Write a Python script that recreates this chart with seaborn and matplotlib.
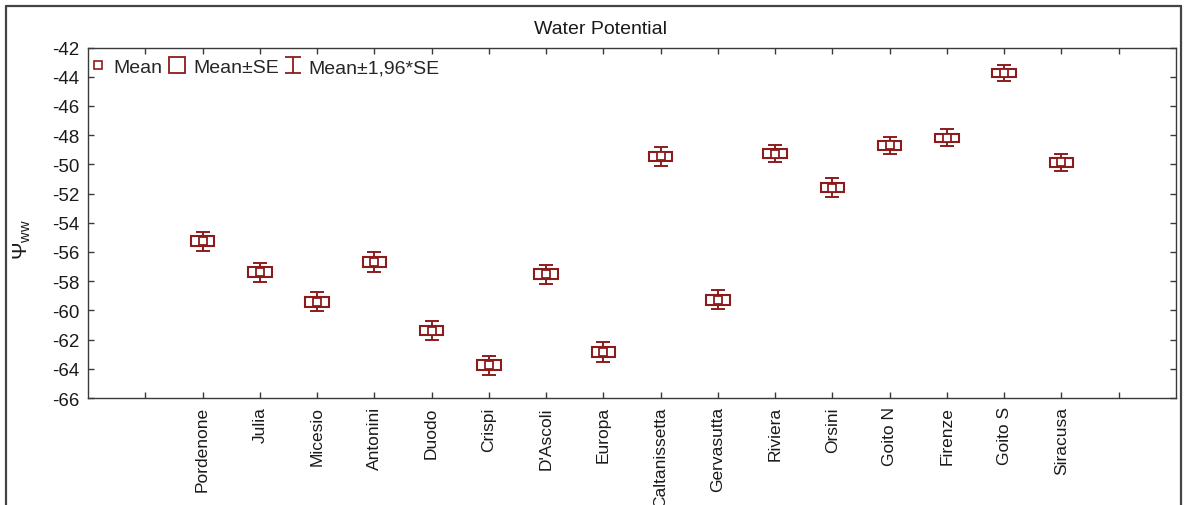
import numpy as np
import pandas as pd
import matplotlib
matplotlib.use("Agg")
import matplotlib.pyplot as plt
from matplotlib.lines import Line2D
from matplotlib.path import Path
import seaborn as sns

# Cultivars / sites and their mean water potential with standard errors
sites = ["Pordenone", "Julia", "Micesio", "Antonini", "Duodo", "Crispi",
         "D'Ascoli", "Europa", "Caltanissetta", "Gervasutta", "Riviera",
         "Orsini", "Goito N", "Firenze", "Goito S", "Siracusa"]
means = [-55.27, -57.38, -59.41, -56.71, -61.38, -63.76, -57.53, -62.86,
         -49.46, -59.27, -49.26, -51.59, -48.71, -48.19, -43.75, -49.87]
se = [0.34, 0.33, 0.34, 0.35, 0.34, 0.33, 0.33, 0.34,
      0.32, 0.33, 0.31, 0.32, 0.31, 0.30, 0.29, 0.31]
yticks = list(range(-66, -41, 2))

sns.set_style("ticks")
plt.rcParams["font.family"] = ["Liberation Sans", "DejaVu Sans"]
plt.rcParams["mathtext.fontset"] = "custom"
plt.rcParams["mathtext.rm"] = "Liberation Sans"
plt.rcParams["mathtext.it"] = "Liberation Sans"

RED = "#8c1c1c"
EDGE = "#3a3a3a"
TXT = "#1a1a1a"

df = pd.DataFrame({"pos": np.arange(1, len(sites) + 1), "site": sites,
                   "mean": means, "se": se})
df["lo"] = df["mean"] - df["se"]
df["ci"] = 1.96 * df["se"]

fig = plt.figure(figsize=(11.84, 5.06), dpi=100)
ax = fig.add_axes([88 / 1184, 1 - 399 / 506, (1176 - 88) / 1184, (399 - 48.5) / 506])

# whiskers: mean ± 1.96*SE
ax.errorbar(df["pos"], df["mean"], yerr=df["ci"], fmt="none", ecolor=RED,
            elinewidth=1.4, capsize=4.8, capthick=1.4, zorder=2)
# boxes: mean ± SE
ax.bar(df["pos"], 2 * df["se"], bottom=df["lo"], width=0.41, color="white",
       edgecolor=RED, linewidth=1.5, zorder=3)
# mean markers
sns.scatterplot(data=df, x="pos", y="mean", marker="s", s=30,
                facecolor="white", edgecolor=RED, linewidth=1.3,
                ax=ax, zorder=4, legend=False)

ax.set_xlim(-1, 18)
ax.set_ylim(-66, -42)
ax.set_xticks(np.arange(0, 18))
ax.set_xticklabels([""] + sites + [""], rotation=90, fontsize=12.5, color=TXT)
ax.set_yticks(yticks)
ax.set_yticklabels([str(t) for t in yticks], fontsize=13.5, color=TXT)
ax.set_xlabel("")
ax.set_ylabel("")
ax.tick_params(direction="in", length=4, width=1, color=EDGE,
               top=True, right=True, pad=6)
for sp in ax.spines.values():
    sp.set_visible(True)
    sp.set_color(EDGE)
    sp.set_linewidth(1.0)

# legend with custom handles
ibeam = Path([(-0.95, 1), (0.95, 1), (0, 1), (0, -1), (-0.95, -1), (0.95, -1)],
             [Path.MOVETO, Path.LINETO, Path.MOVETO, Path.LINETO,
              Path.MOVETO, Path.LINETO])
handles = [
    Line2D([], [], linestyle="none", marker="s", markersize=5.5,
           markerfacecolor="white", markeredgecolor=RED, markeredgewidth=1.2),
    Line2D([], [], linestyle="none", marker="s", markersize=11.5,
           markerfacecolor="white", markeredgecolor=RED, markeredgewidth=1.3),
    Line2D([], [], linestyle="none", marker=ibeam, markersize=12,
           markerfacecolor="none", markeredgecolor=RED, markeredgewidth=1.3),
]
ax.legend(handles, ["Mean", "Mean\u00b1SE", "Mean\u00b11,96*SE"], loc="upper left",
          ncol=3, frameon=False, fontsize=14, handlelength=0.9,
          handletextpad=0.35, columnspacing=0.3, borderaxespad=0.0,
          borderpad=0.3, bbox_to_anchor=(-0.004, 0.985))

fig.text(600 / 1184, 1 - 29 / 506, "Water Potential",
         ha="center", va="center", fontsize=14, color=TXT)
fig.text(22 / 1184, 1 - 240 / 506, r"$\Psi_{\mathrm{ww}}$", rotation=90,
         ha="center", va="center", fontsize=15, color=TXT)

# outer frame of the figure
for xs, ys in [([6, 6], [507, 7]), ([6, 1181], [7, 7]), ([1181, 1181], [7, 507])]:
    fig.add_artist(Line2D([x / 1184 for x in xs], [1 - y / 506 for y in ys],
                          color="#444444", linewidth=1.6))

fig.savefig("out.png", dpi=100)
